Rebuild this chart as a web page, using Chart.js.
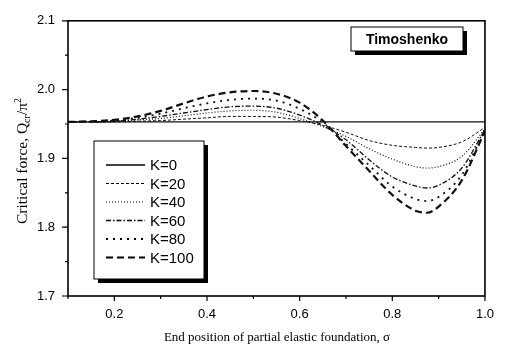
<!DOCTYPE html>
<html>
<head>
<meta charset="utf-8">
<script src="https://cdn.jsdelivr.net/npm/chart.js@4/dist/chart.umd.min.js"></script>
<style>
    body { margin: 0; background: #fff; }
    #wrap { width: 505px; height: 353px; position: relative; }
</style>
</head>
<body>
<div id="wrap"><canvas id="bucklingChart"></canvas></div>
<script>
// end position of the partial foundation (x values)
var sigma = [0.10, 0.15, 0.20, 0.25, 0.30, 0.35, 0.40, 0.45, 0.50, 0.55, 0.60, 0.65, 0.70, 0.75, 0.80, 0.85, 0.875, 0.90, 0.95, 1.00];

// critical force Q/pi^2 for each stiffness K
var k0   = [1.953, 1.953, 1.953, 1.953, 1.953, 1.953, 1.953, 1.953, 1.953, 1.953, 1.953, 1.953, 1.953, 1.953, 1.953, 1.953, 1.953, 1.953, 1.953, 1.953];
var k20  = [1.953, 1.953, 1.953, 1.954, 1.955, 1.957, 1.959, 1.961, 1.961, 1.960, 1.955, 1.948, 1.938, 1.926, 1.919, 1.916, 1.915, 1.916, 1.924, 1.945];
var k40  = [1.953, 1.953, 1.954, 1.956, 1.958, 1.962, 1.966, 1.969, 1.970, 1.967, 1.958, 1.946, 1.932, 1.914, 1.899, 1.888, 1.886, 1.888, 1.903, 1.943];
var k60  = [1.953, 1.953, 1.954, 1.957, 1.961, 1.966, 1.971, 1.975, 1.976, 1.973, 1.963, 1.948, 1.927, 1.898, 1.873, 1.860, 1.857, 1.861, 1.886, 1.942];
var k80  = [1.953, 1.953, 1.955, 1.959, 1.965, 1.973, 1.980, 1.985, 1.987, 1.984, 1.972, 1.952, 1.921, 1.890, 1.859, 1.841, 1.838, 1.844, 1.876, 1.941];
var k100 = [1.953, 1.954, 1.956, 1.961, 1.969, 1.980, 1.990, 1.996, 1.998, 1.994, 1.981, 1.955, 1.918, 1.882, 1.847, 1.824, 1.821, 1.830, 1.868, 1.940];

var seriesLabels = ['K=0', 'K=20', 'K=40', 'K=60', 'K=80', 'K=100'];

// axis ticks
var xTicks = [0.2, 0.4, 0.6, 0.8, 1.0];
var xMinorTicks = [0.1, 0.3, 0.5, 0.7, 0.9];
var yTicks = [1.7, 1.8, 1.9, 2.0, 2.1];
var yMinorTicks = [1.75, 1.85, 1.95, 2.05];

var boxLabel = 'Timoshenko';

// line styles per series
var styles = [
    { width: 1.3, dash: [] },
    { width: 1, dash: [3, 2] },
    { width: 1.2, dash: [1, 2] },
    { width: 1.3, dash: [5, 2, 1.5, 2] },
    { width: 1.8, dash: [2, 5] },
    { width: 2.2, dash: [7, 4] }
];

function toPoints(values) {
    return sigma.map(function (s, i) { return { x: s, y: values[i] }; });
}

var allSeries = [k0, k20, k40, k60, k80, k100];
var datasets = allSeries.map(function (vals, i) {
    return {
        label: seriesLabels[i],
        data: toPoints(vals),
        borderColor: '#111',
        borderWidth: styles[i].width,
        borderDash: styles[i].dash,
        pointRadius: 0,
        fill: false,
        cubicInterpolationMode: 'monotone'
    };
});

// frame, tick marks, axis titles, legend and label box
var decorPlugin = {
    id: 'decor',
    afterDraw: function (chart) {
        var ctx = chart.ctx;
        var area = chart.chartArea;
        var xs = chart.scales.x, ys = chart.scales.y;
        ctx.save();
        ctx.strokeStyle = '#000';
        ctx.setLineDash([]);

        // frame
        ctx.lineWidth = 1.6;
        ctx.strokeRect(area.left, area.top, area.right - area.left, area.bottom - area.top);

        // x ticks (outward)
        ctx.lineWidth = 1.2;
        ctx.beginPath();
        xTicks.forEach(function (v) {
            var px = xs.getPixelForValue(v);
            ctx.moveTo(px, area.bottom); ctx.lineTo(px, area.bottom + 5);
        });
        xMinorTicks.forEach(function (v) {
            var px = xs.getPixelForValue(v);
            ctx.moveTo(px, area.bottom); ctx.lineTo(px, area.bottom + 3);
        });
        // y ticks (outward)
        yTicks.forEach(function (v) {
            var py = ys.getPixelForValue(v);
            ctx.moveTo(area.left, py); ctx.lineTo(area.left - 6, py);
        });
        yMinorTicks.forEach(function (v) {
            var py = ys.getPixelForValue(v);
            ctx.moveTo(area.left, py); ctx.lineTo(area.left - 3, py);
        });
        ctx.stroke();

        // x axis title
        ctx.fillStyle = '#000';
        ctx.font = '13px "Liberation Serif", "Times New Roman", serif';
        ctx.textAlign = 'center';
        ctx.textBaseline = 'middle';
        ctx.fillText('End position of partial elastic foundation, \u03c3', 277, 338);

        // y axis title with sub/superscript
        ctx.save();
        ctx.translate(22, 161);
        ctx.rotate(-Math.PI / 2);
        var big = '15.5px "Liberation Serif", "Times New Roman", serif';
        var small = '10px "Liberation Serif", "Times New Roman", serif';
        var parts = [
            { t: 'Critical force, Q', f: big, dy: 0 },
            { t: 'cr', f: small, dy: 3 },
            { t: '/\u03c0', f: big, dy: 0 },
            { t: '2', f: small, dy: -6 }
        ];
        var total = 0;
        parts.forEach(function (p) { ctx.font = p.f; total += ctx.measureText(p.t).width; });
        var cx = -total / 2;
        ctx.textAlign = 'left';
        ctx.textBaseline = 'alphabetic';
        parts.forEach(function (p) {
            ctx.font = p.f;
            ctx.fillText(p.t, cx, 5 + p.dy);
            cx += ctx.measureText(p.t).width;
        });
        ctx.restore();

        // legend box with shadow
        var lx = 94, ly = 141, lw = 110, lh = 138;
        ctx.fillStyle = '#000';
        ctx.fillRect(lx + 4, ly + 4, lw, lh);
        ctx.fillStyle = '#fff';
        ctx.fillRect(lx, ly, lw, lh);
        ctx.lineWidth = 1;
        ctx.strokeRect(lx, ly, lw, lh);
        ctx.font = '15px "Liberation Sans", Arial, sans-serif';
        ctx.textAlign = 'left';
        ctx.textBaseline = 'middle';
        ctx.fillStyle = '#000';
        seriesLabels.forEach(function (lab, i) {
            var ry = 165 + i * 18.5;
            ctx.lineWidth = styles[i].width;
            ctx.setLineDash(styles[i].dash);
            ctx.beginPath();
            ctx.moveTo(106, ry); ctx.lineTo(145, ry);
            ctx.stroke();
            ctx.setLineDash([]);
            ctx.fillText(lab, 150, ry + 1);
        });

        // Timoshenko box with shadow
        var bx = 351, by = 27, bw = 112, bh = 24;
        ctx.fillStyle = '#000';
        ctx.fillRect(bx + 4, by + 4, bw, bh);
        ctx.fillStyle = '#fff';
        ctx.fillRect(bx, by, bw, bh);
        ctx.lineWidth = 1;
        ctx.strokeRect(bx, by, bw, bh);
        ctx.fillStyle = '#000';
        ctx.font = 'bold 14px "Liberation Sans", Arial, sans-serif';
        ctx.textAlign = 'center';
        ctx.fillText(boxLabel, bx + bw / 2, by + bh / 2 + 1);

        ctx.restore();
    }
};

// define config
const config = {
    type: 'line',
    data: { datasets: datasets },
    options: {
        responsive: true,
        maintainAspectRatio: false,
        animation: false,
        layout: { padding: { top: 13, right: 20, left: 0, bottom: 0 } },
        plugins: {
            legend: { display: false },
            tooltip: { enabled: false }
        },
        scales: {
            x: {
                type: 'linear',
                min: 0.1,
                max: 1.0,
                afterBuildTicks: function (scale) {
                    scale.ticks = xTicks.map(function (v) { return { value: v }; });
                },
                afterFit: function (scale) { scale.height = 57; },
                grid: { display: false, drawTicks: false },
                border: { display: false },
                ticks: {
                    padding: 11,
                    color: '#000',
                    font: { family: '"Liberation Sans", Arial, sans-serif', size: 13 },
                    callback: function (v) { return Number(v).toFixed(1); }
                }
            },
            y: {
                type: 'linear',
                min: 1.7,
                max: 2.1,
                afterBuildTicks: function (scale) {
                    scale.ticks = yTicks.map(function (v) { return { value: v }; });
                },
                afterFit: function (scale) { scale.width = 68; },
                grid: { display: false, drawTicks: false },
                border: { display: false },
                ticks: {
                    padding: 13,
                    color: '#000',
                    font: { family: '"Liberation Sans", Arial, sans-serif', size: 13 },
                    callback: function (v) { return Number(v).toFixed(1); }
                }
            }
        }
    },
    plugins: [decorPlugin]
};

// draw chart
const bucklingChart = new Chart(document.getElementById('bucklingChart'), config);
</script>
</body>
</html>
